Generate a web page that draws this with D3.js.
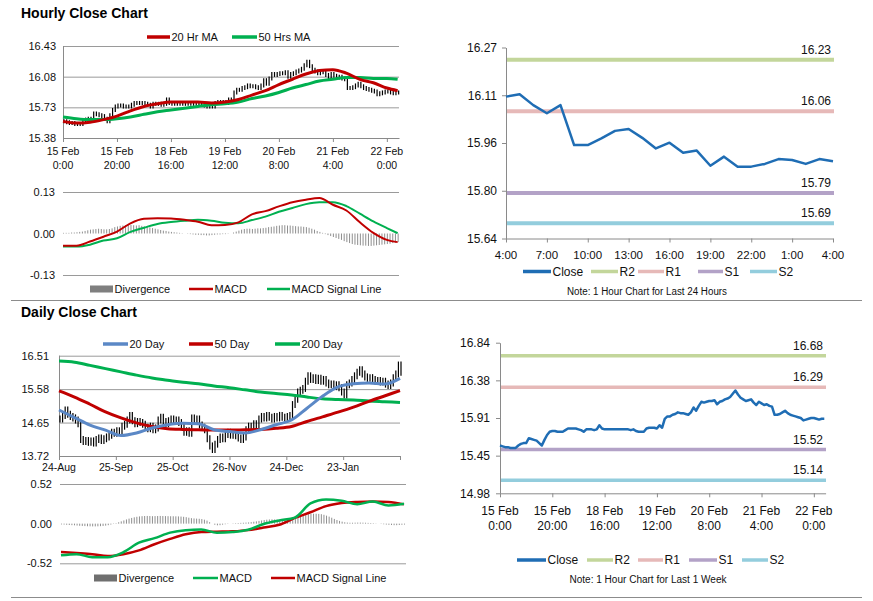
<!DOCTYPE html>
<html>
<head>
<meta charset="utf-8">
<script src="https://cdn.jsdelivr.net/npm/d3@7"></script>
<style>
  body { margin: 0; background: #fff; }
  svg { font-family: "Liberation Sans", Arial, sans-serif; }
  .title { font-weight: bold; font-size: 14px; }
</style>
</head>
<body>
<svg id="chart" width="873" height="601"></svg>
<script>
// ---------- hourly (15 Feb 0:00 .. 22 Feb ~4:00), one value per hour ----------
const hourlyClose = [
  15.57,15.56,15.55,15.55,15.54,15.54,15.54,15.57,15.59,15.60,
  15.60,15.66,15.65,15.64,15.63,15.60,15.57,15.64,15.70,15.74,
  15.75,15.75,15.74,15.74,15.74,15.76,15.78,15.78,15.78,15.78,
  15.77,15.76,15.74,15.77,15.77,15.77,15.76,15.77,15.82,15.78,
  15.77,15.77,15.77,15.77,15.77,15.77,15.77,15.77,15.77,15.77,
  15.76,15.77,15.75,15.74,15.74,15.74,15.78,15.79,15.79,15.79,
  15.78,15.82,15.79,15.90,15.93,15.93,15.95,15.96,15.98,15.97,
  15.97,15.96,15.95,15.98,16.04,16.00,16.06,16.11,16.10,16.11,
  16.12,16.12,16.13,16.08,16.11,16.12,16.14,16.15,16.17,16.21,
  16.25,16.20,16.16,16.14,16.12,16.13,16.14,16.10,16.07,16.11,
  16.09,16.07,16.08,16.06,16.05,15.95,15.95,15.96,15.98,16.00,
  15.97,15.95,15.94,15.93,15.92,15.91,15.88,15.89,15.90,15.91,
  15.91,15.90,15.89,15.90,15.90
];
const hourlyTicks = [0, 20, 40, 60, 80, 100, 120];
const hourlyTickLabels = [
  ["15 Feb", "0:00"], ["15 Feb", "20:00"], ["18 Feb", "16:00"], ["19 Feb", "12:00"],
  ["20 Feb", "8:00"], ["21 Feb", "4:00"], ["22 Feb", "0:00"]
];
const hourlyPriceTicks = [15.38, 15.73, 16.08, 16.43];
const hourlyPriceLabels = ["15.38", "15.73", "16.08", "16.43"];

// moving averages / MACD read at every 5th hour
const hourlySampleIdx = [0,5,10,15,20,25,30,35,40,45,50,55,60,65,70,75,80,85,90,95,100,105,110,115,120,124];
const ma20Hr = [15.57,15.55,15.56,15.59,15.63,15.69,15.74,15.77,15.79,15.79,15.79,15.78,15.79,
                15.82,15.87,15.92,15.99,16.05,16.11,16.15,16.16,16.12,16.05,16.01,15.95,15.92];
const ma50Hr = [15.62,15.60,15.59,15.59,15.60,15.62,15.65,15.68,15.70,15.72,15.74,15.76,15.77,
                15.79,15.83,15.86,15.90,15.95,15.99,16.03,16.05,16.07,16.07,16.06,16.06,16.05];
const hourlyMacd = [-0.038,-0.038,-0.025,-0.010,0.006,0.032,0.046,0.048,0.047,0.043,0.037,0.026,0.027,
                    0.035,0.060,0.070,0.085,0.098,0.106,0.111,0.090,0.072,0.035,0.002,-0.020,-0.027];
const hourlySignal = [-0.041,-0.041,-0.035,-0.022,-0.015,0.005,0.018,0.030,0.036,0.040,0.043,0.040,0.034,
                      0.032,0.042,0.053,0.068,0.080,0.092,0.098,0.098,0.086,0.062,0.038,0.017,0.001];
const hourlyDivergence = [
  0.002,0.002,0.002,0.003,0.003,0.004,0.005,0.006,
  0.008,0.010,0.012,0.013,0.014,0.015,0.014,0.013,0.013,0.014,0.016,
  0.020,0.022,0.024,0.025,0.026,0.027,0.027,0.026,0.025,0.026,0.024,0.022,0.021,
  0.019,0.017,0.015,0.013,0.011,0.009,0.008,0.006,0.005,0.004,0.003,0.002,
  0.001,0.000,-0.001,-0.002,-0.003,-0.004,-0.004,-0.005,-0.005,-0.006,-0.006,-0.005,-0.004,-0.003,-0.003,-0.002,-0.002,-0.001,0.000,
  0.003,0.006,0.009,0.012,0.014,0.015,0.015,0.014,0.015,0.016,0.016,0.017,0.018,0.020,0.021,
  0.022,0.024,0.025,0.026,0.026,0.025,0.025,0.024,0.023,0.022,0.022,0.021,0.020,0.018,
  0.015,0.012,0.008,0.005,0.002,
  -0.002,-0.005,-0.008,-0.011,-0.014,-0.017,-0.020,
  -0.024,-0.027,-0.030,-0.033,-0.035,-0.036,-0.037,-0.038,-0.038,-0.039,-0.039,-0.038,-0.037,
  -0.036,-0.035,-0.034,-0.033,-0.032,-0.030,-0.029,-0.027
];
const hourlyMacdTicks = [-0.13, 0, 0.13];
const hourlyMacdLabels = ["-0.13", "0.00", "0.13"];

// ---------- last 24 hours ----------
const last24Close = [16.108,16.116,16.080,16.053,16.080,15.948,15.948,15.970,15.995,16.001,15.972,15.937,15.956,
                     15.923,15.930,15.880,15.910,15.877,15.877,15.886,15.902,15.899,15.886,15.902,15.895];
const last24Ticks = [0, 3, 6, 9, 12, 15, 18, 21, 24];
const last24TickLabels = ["4:00", "7:00", "10:00", "13:00", "16:00", "19:00", "22:00", "1:00", "4:00"];
const last24PriceTicks = [15.64, 15.7975, 15.955, 16.1125, 16.27];
const last24PriceLabels = ["15.64", "15.80", "15.96", "16.11", "16.27"];

const levelNames = ["R2", "R1", "S1", "S2"];
const levels24 = [16.23, 16.06, 15.79, 15.69];
const levelsWeek = [16.68, 16.29, 15.52, 15.14];
const weekPriceTicks = [14.98, 15.445, 15.91, 16.375, 16.84];
const weekPriceLabels = ["14.98", "15.45", "15.91", "16.38", "16.84"];

// ---------- daily (24-Aug .. 22-Feb) ----------
const dailyClose = [
  14.75,14.85,15.00,14.88,14.82,14.78,14.72,14.62,14.18,14.12,
  14.15,14.10,14.14,14.08,14.18,14.22,14.15,14.20,14.25,14.30,
  14.38,14.35,14.42,14.40,14.55,14.60,14.72,14.85,14.70,14.62,
  14.68,14.65,14.60,14.52,14.48,14.55,14.45,14.50,14.72,14.80,
  14.68,14.62,14.70,14.75,14.68,14.72,14.65,14.55,14.38,14.42,
  14.35,14.78,14.70,14.75,14.58,14.52,14.45,14.20,14.00,13.90,
  14.05,14.18,14.25,14.20,14.32,14.38,14.30,14.35,14.28,14.22,
  14.18,14.25,14.45,14.55,14.50,14.62,14.58,14.75,14.82,14.78,
  14.85,14.80,14.75,14.82,14.78,14.85,14.80,14.78,14.82,14.85,
  15.15,15.30,15.50,15.55,15.60,15.80,15.95,15.85,15.90,15.82,
  15.88,15.80,15.85,15.75,15.70,15.72,15.65,15.70,15.62,15.50,
  15.42,15.70,15.75,15.85,15.95,16.05,16.12,16.00,15.92,15.88,
  15.90,15.85,15.80,15.82,15.78,15.80,15.72,15.68,15.75,15.90,
  16.00,16.25,16.05
];
const dailyTicks = [0, 22, 44, 66, 88, 110, 132];
const dailyTickLabels = ["24-Aug", "25-Sep", "25-Oct", "26-Nov", "24-Dec", "23-Jan", ""];
const dailyPriceTicks = [13.72, 14.65, 15.58, 16.51];
const dailyPriceLabels = ["13.72", "14.65", "15.58", "16.51"];

// moving averages / MACD read at every 6th day
const dailySampleIdx = [0,6,12,18,24,30,36,42,48,54,60,66,72,78,84,90,96,102,108,114,120,126,132];
const ma20Day = [15.00,14.79,14.58,14.44,14.29,14.36,14.50,14.59,14.63,14.62,14.45,14.40,
                 14.36,14.45,14.59,14.72,15.05,15.38,15.64,15.73,15.75,15.72,15.88];
const ma50Day = [15.53,15.36,15.16,14.95,14.78,14.64,14.54,14.48,14.46,14.45,14.44,14.44,
                 14.45,14.46,14.49,14.54,14.68,14.81,14.94,15.08,15.24,15.39,15.54];
const ma200Day = [16.36,16.33,16.24,16.15,16.06,15.97,15.89,15.83,15.77,15.73,15.67,15.62,
                  15.56,15.50,15.46,15.42,15.36,15.31,15.29,15.28,15.25,15.23,15.21];
const dailyMacd = [-0.415,-0.400,-0.440,-0.440,-0.375,-0.250,-0.190,-0.118,-0.085,-0.076,-0.120,-0.110,
                   -0.080,-0.005,0.042,0.080,0.265,0.318,0.300,0.255,0.290,0.238,0.260];
const dailySignal = [-0.372,-0.385,-0.400,-0.425,-0.400,-0.350,-0.270,-0.200,-0.140,-0.110,-0.105,-0.100,
                     -0.085,-0.050,-0.015,0.075,0.150,0.230,0.270,0.285,0.290,0.283,0.253];
const dailyDivergence = [
  -0.010,-0.012,-0.015,-0.018,-0.020,-0.022,-0.025,-0.028,-0.030,-0.032,-0.034,-0.035,-0.036,-0.036,-0.035,-0.033,-0.030,-0.026,-0.020,
  -0.012,-0.004,0.006,0.018,0.030,0.042,0.055,0.066,0.075,0.083,0.090,
  0.095,0.098,0.100,0.101,0.100,0.098,0.099,0.100,0.101,0.100,0.099,0.098,0.097,0.097,0.096,0.095,0.093,0.090,0.085,
  0.078,0.072,0.068,0.066,0.064,0.060,0.052,0.040,
  0.020,0.000,-0.015,-0.022,-0.020,-0.014,-0.008,-0.004,0.000,
  0.004,0.006,0.008,0.010,0.012,0.014,0.016,0.020,0.025,0.030,0.036,
  0.042,0.048,0.052,0.055,0.056,0.055,0.053,0.050,0.050,0.052,0.056,0.062,0.070,
  0.080,0.090,0.100,0.110,0.118,0.124,0.128,0.130,0.130,0.128,0.124,
  0.116,0.105,0.092,0.078,0.062,0.048,0.036,0.026,0.018,
  0.014,0.012,0.012,0.013,0.014,0.014,0.013,0.012,0.010,0.008,0.006,0.003,
  0.000,-0.004,-0.008,-0.012,-0.015,-0.018,-0.020,-0.020,-0.018,-0.015,-0.012
];
const dailyMacdTicks = [-0.52, 0, 0.52];
const dailyMacdLabels = ["-0.52", "0.00", "0.52"];

// ---------- drawing ----------
const RED = "#c00000", GREEN = "#00b050", BLUE20 = "#5b88c6", CLOSE = "#1f6db4", DIV = "#8f8f8f";
const GRID = "#9a9a9a", AXIS = "#8a8a8a";
const levelColors = ["#c3d69b", "#e6b9b8", "#b3a2c7", "#93cddd"];

const svg = d3.select("#chart");

function grid(x0, x1, y, ticks) {
    svg.append("g")
        .attr("transform", `translate(${x0},0)`)
        .call(d3.axisLeft(y).tickValues(ticks).tickSize(-(x1 - x0)).tickFormat(""))
        .call(g => g.select(".domain").remove())
        .selectAll("line").attr("stroke", GRID);
}

function yLabels(xRight, y, ticks, labels, size) {
    svg.append("g")
        .attr("transform", `translate(${xRight},0)`)
        .call(d3.axisLeft(y).tickValues(ticks).tickSize(0).tickPadding(0).tickFormat((d, i) => labels[i]))
        .call(g => g.select(".domain").remove())
        .selectAll("text").attr("font-size", size).attr("fill", "#111")
        .attr("font-family", "Liberation Sans, Arial, sans-serif");
}

function xAxis(x, yPos, ticks) {
    svg.append("g")
        .attr("transform", `translate(0,${yPos})`)
        .call(d3.axisBottom(x).tickValues(ticks).tickSize(4).tickSizeOuter(0).tickFormat(""))
        .selectAll("line,path").attr("stroke", AXIS);
}

function leftAxis(xPos, y, ticks, tick) {
    svg.append("g")
        .attr("transform", `translate(${xPos},0)`)
        .call(d3.axisLeft(y).tickValues(ticks).tickSize(tick).tickSizeOuter(0).tickFormat(""))
        .selectAll("line,path").attr("stroke", AXIS);
}

function twoLineLabels(x, ticks, labels, y1, y2, size) {
    const g = svg.append("g").attr("font-size", size).attr("text-anchor", "middle").attr("fill", "#111");
    ticks.forEach((t, i) => {
        g.append("text").attr("x", x(t)).attr("y", y1).text(labels[i][0]);
        g.append("text").attr("x", x(t)).attr("y", y2).text(labels[i][1]);
    });
}

function candles(data, x, y, wick) {
    svg.append("g").selectAll("line").data(data).join("line")
        .attr("x1", (d, i) => x(i) + 1).attr("x2", (d, i) => x(i) + 1)
        .attr("y1", (d, i) => y(Math.max(d, i ? data[i - 1] : d)) - wick)
        .attr("y2", (d, i) => y(Math.min(d, i ? data[i - 1] : d)) + wick)
        .attr("stroke", "#000").attr("stroke-width", 1.2);
}

function sampledLine(idx, values, x, y, color, width) {
    const line = d3.line().x((d, i) => x(idx[i])).y(d => y(d)).curve(d3.curveMonotoneX);
    svg.append("path").datum(values).attr("d", line)
        .attr("fill", "none").attr("stroke", color).attr("stroke-width", width)
        .attr("stroke-linejoin", "round");
}

function bars(values, x, y) {
    svg.append("g").selectAll("line").data(values).join("line")
        .attr("x1", (d, i) => x(i) + 0.5).attr("x2", (d, i) => x(i) + 0.5)
        .attr("y1", y(0)).attr("y2", d => y(d))
        .attr("stroke", DIV).attr("stroke-width", 1);
}

function legend(items, yPos, size) {
    const g = svg.append("g").attr("font-size", size).attr("fill", "#111");
    items.forEach(it => {
        if (it.box) {
            g.append("rect").attr("x", it.x0).attr("y", yPos - 3.5).attr("width", it.x1 - it.x0).attr("height", 7)
                .attr("fill", it.color);
        } else {
            g.append("line").attr("x1", it.x0).attr("x2", it.x1).attr("y1", yPos).attr("y2", yPos)
                .attr("stroke", it.color).attr("stroke-width", it.w || 3.5);
        }
        g.append("text").attr("x", it.x1 + 1.5).attr("y", yPos).attr("dy", "0.35em").text(it.label);
    });
}

// titles and separators
svg.append("text").attr("class", "title").attr("x", 21).attr("y", 18).text("Hourly Close Chart");
svg.append("text").attr("class", "title").attr("x", 21).attr("y", 317).text("Daily Close Chart");
[300.5, 597.5].forEach(yy => svg.append("line").attr("x1", 11).attr("x2", 862).attr("y1", yy).attr("y2", yy)
    .attr("stroke", "#8c8c8c").attr("stroke-width", 1));

// ===== hourly price =====
const hx = d3.scaleLinear().domain([0, 124.5]).range([63, 399]);
const hy = d3.scaleLinear().domain([15.38, 16.43]).range([138, 46]);
grid(63, 399, hy, hourlyPriceTicks);
svg.append("line").attr("x1", 63.5).attr("x2", 63.5).attr("y1", 46).attr("y2", 138).attr("stroke", AXIS);
xAxis(hx, 138, hourlyTicks);
yLabels(56, hy, hourlyPriceTicks, hourlyPriceLabels, 11);
twoLineLabels(hx, hourlyTicks, hourlyTickLabels, 155, 169, 10.5);
candles(hourlyClose, hx, hy, 2);
sampledLine(hourlySampleIdx, ma50Hr, hx, hy, GREEN, 3);
sampledLine(hourlySampleIdx, ma20Hr, hx, hy, RED, 3);
legend([
    {label: "20 Hr MA", color: RED, x0: 147, x1: 170},
    {label: "50 Hrs MA", color: GREEN, x0: 232, x1: 257}
], 37, 11);

// ===== hourly MACD =====
const hmy = d3.scaleLinear().domain([-0.13, 0.13]).range([275, 192]);
grid(63, 399, hmy, [-0.13, 0.13]);
yLabels(55, hmy, hourlyMacdTicks, hourlyMacdLabels, 11);
bars(hourlyDivergence, hx, hmy);
sampledLine(hourlySampleIdx, hourlySignal, hx, hmy, GREEN, 2);
sampledLine(hourlySampleIdx, hourlyMacd, hx, hmy, RED, 2);
legend([
    {label: "Divergence", color: "#7f7f7f", x0: 90, x1: 113, box: true},
    {label: "MACD", color: RED, x0: 189, x1: 213, w: 2.5},
    {label: "MACD Signal Line", color: GREEN, x0: 267, x1: 290, w: 2.5}
], 289, 11);

// ===== level charts =====
function levelChart(o) {
    leftAxis(o.x0, o.y, o.yTicks, 4);
    xAxis(o.x, o.y.range()[0], o.xTicks);
    yLabels(o.labelX, o.y, o.yTicks, o.yLabels, 12);
    o.levels.forEach((v, i) => {
        svg.append("line").attr("x1", o.x0 + 1).attr("x2", o.x1).attr("y1", o.y(v)).attr("y2", o.y(v))
            .attr("stroke", levelColors[i]).attr("stroke-width", o.lw);
        svg.append("text").attr("x", o.x1 - 3).attr("y", o.y(v) - 6).attr("text-anchor", "end")
            .attr("font-size", 12).attr("fill", "#111").text(v.toFixed(2));
    });
    const line = d3.line().x((d, i) => o.x(i)).y(d => o.y(d));
    svg.append("path").datum(o.close).attr("d", line)
        .attr("fill", "none").attr("stroke", CLOSE).attr("stroke-width", 2.5).attr("stroke-linejoin", "round");
    legend([
        {label: "Close", color: CLOSE, x0: o.lx[0], x1: o.lx[1]},
        ...levelNames.map((n, i) => ({label: n, color: levelColors[i], x0: o.lx[2 + i * 2], x1: o.lx[3 + i * 2]}))
    ], o.legendY, 12);
    svg.append("text").attr("x", o.noteX).attr("y", o.noteY).attr("text-anchor", "middle")
        .attr("font-size", 10).attr("fill", "#111").attr("textLength", o.noteLen)
        .attr("lengthAdjust", "spacingAndGlyphs").text(o.note);
}

const tx = d3.scaleLinear().domain([0, 24]).range([506, 833]);
const ty = d3.scaleLinear().domain([15.64, 16.27]).range([238.5, 47.5]);
levelChart({
    x: tx, y: ty, x0: 506, x1: 834, yTicks: last24PriceTicks, yLabels: last24PriceLabels,
    xTicks: last24Ticks, labelX: 497, levels: levels24, lw: 4, close: last24Close,
    lx: [523, 551, 591, 618, 638, 664, 698, 723, 750, 777], legendY: 271.5,
    note: "Note: 1 Hour Chart for Last 24 Hours", noteX: 647, noteY: 295, noteLen: 160
});
svg.append("g").attr("font-size", 11.5).attr("text-anchor", "middle").attr("fill", "#111")
    .selectAll("text").data(last24Ticks).join("text")
    .attr("x", d => tx(d)).attr("y", 259).text((d, i) => last24TickLabels[i]);

const wx = d3.scaleLinear().domain([0, 124.5]).range([500, 825.6]);
const wy = d3.scaleLinear().domain([14.98, 16.84]).range([493.3, 342.7]);
levelChart({
    x: wx, y: wy, x0: 500, x1: 826, yTicks: weekPriceTicks, yLabels: weekPriceLabels,
    xTicks: hourlyTicks, labelX: 490, levels: levelsWeek, lw: 3.5, close: hourlyClose,
    lx: [517, 546, 587, 613, 638, 663, 689, 717, 742, 768], legendY: 560,
    note: "Note: 1 Hour Chart for Last 1 Week", noteX: 648, noteY: 583, noteLen: 157
});
twoLineLabels(wx, hourlyTicks, hourlyTickLabels, 515, 530, 12);

// ===== daily price =====
const dx = d3.scaleLinear().domain([0, 132]).range([59, 400]);
const dy = d3.scaleLinear().domain([13.72, 16.51]).range([456, 355.7]);
grid(59, 400, dy, dailyPriceTicks);
svg.append("line").attr("x1", 59.5).attr("x2", 59.5).attr("y1", 355.7).attr("y2", 456).attr("stroke", AXIS);
xAxis(dx, 456, dailyTicks);
yLabels(49, dy, dailyPriceTicks, dailyPriceLabels, 11);
svg.append("g").attr("font-size", 10.5).attr("text-anchor", "middle").attr("fill", "#111")
    .selectAll("text").data(dailyTicks).join("text")
    .attr("x", d => dx(d)).attr("y", 471).text((d, i) => dailyTickLabels[i]);
candles(dailyClose, dx, dy, 3.5);
sampledLine(dailySampleIdx, ma200Day, dx, dy, GREEN, 3);
sampledLine(dailySampleIdx, ma50Day, dx, dy, RED, 3);
sampledLine(dailySampleIdx, ma20Day, dx, dy, BLUE20, 3);
legend([
    {label: "20 Day", color: BLUE20, x0: 103, x1: 128},
    {label: "50 Day", color: RED, x0: 189, x1: 213},
    {label: "200 Day", color: GREEN, x0: 275, x1: 300}
], 344, 11);

// ===== daily MACD =====
const dmx = d3.scaleLinear().domain([0, 132]).range([61, 404]);
const dmy = d3.scaleLinear().domain([-0.52, 0.52]).range([563.3, 484]);
grid(60, 406, dmy, [-0.52, 0.52]);
yLabels(52, dmy, dailyMacdTicks, dailyMacdLabels, 11);
bars(dailyDivergence, dmx, dmy);
sampledLine(dailySampleIdx, dailySignal, dmx, dmy, RED, 2.5);
sampledLine(dailySampleIdx, dailyMacd, dmx, dmy, GREEN, 2.5);
legend([
    {label: "Divergence", color: "#6f6f6f", x0: 94, x1: 117, box: true},
    {label: "MACD", color: GREEN, x0: 193, x1: 218, w: 2.5},
    {label: "MACD Signal Line", color: RED, x0: 271, x1: 295, w: 2.5}
], 578, 11);
</script>
</body>
</html>
